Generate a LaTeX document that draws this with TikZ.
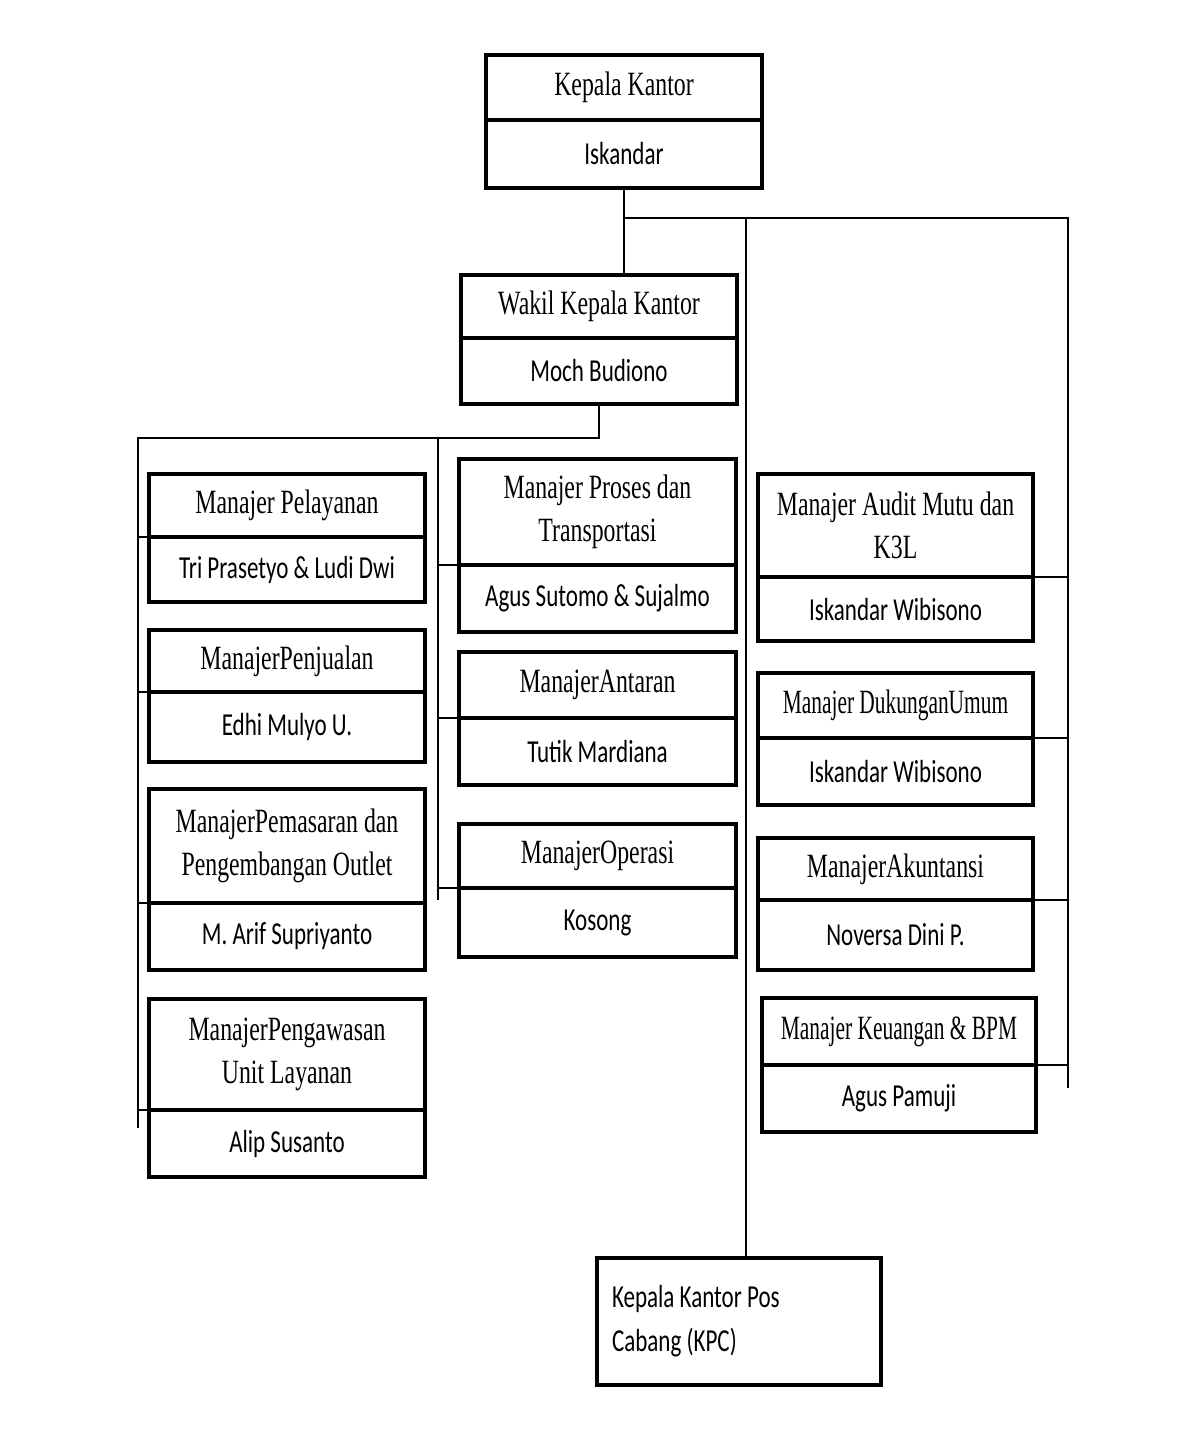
\documentclass[tikz,border=0pt]{standalone}
\usepackage{fontspec}
\newfontfamily\titlefont[FakeStretch=0.7]{Liberation Serif}
\newfontfamily\titlenarrow[FakeStretch=0.63]{Liberation Serif}
\newfontfamily\personfont[FakeStretch=0.72]{Carlito}
\usetikzlibrary{positioning}

\begin{document}
\begin{tikzpicture}[x=1pt,y=-1pt,
  posbox/.style={draw,line width=4pt,outer sep=0pt,inner sep=2pt,align=center,anchor=north west,
    font=\titlefont\fontsize{34}{43}\selectfont},
  narrowbox/.style={posbox,font=\titlenarrow\fontsize{34}{43}\selectfont},
  personbox/.style={draw,line width=4pt,outer sep=0pt,inner sep=2pt,align=center,
    font=\personfont\fontsize{32}{40}\selectfont},
  conn/.style={line width=1.5pt}]
\fill[white] (0,0) rectangle (1202,1432);
\useasboundingbox (0,0) rectangle (1202,1432);

% top
\node[posbox,minimum width=276,minimum height=65] (kep-t) at (486,55) {Kepala Kantor};
\node[personbox,minimum width=276,minimum height=68,below=0pt of kep-t] (kep-n) {Iskandar};
\node[posbox,minimum width=276,minimum height=63] (wak-t) at (461,275) {Wakil Kepala Kantor};
\node[personbox,minimum width=276,minimum height=66,below=0pt of wak-t] (wak-n) {Moch Budiono};

% left column
\node[posbox,minimum width=276,minimum height=63] (pel-t) at (149,474) {Manajer Pelayanan};
\node[personbox,minimum width=276,minimum height=65,below=0pt of pel-t] (pel-n) {Tri Prasetyo \& Ludi Dwi};
\node[posbox,minimum width=276,minimum height=62] (penj-t) at (149,630) {ManajerPenjualan};
\node[personbox,minimum width=276,minimum height=70,below=0pt of penj-t] (penj-n) {Edhi Mulyo U.};
\node[posbox,minimum width=276,minimum height=114] (pem-t) at (149,789) {ManajerPemasaran dan\\Pengembangan Outlet};
\node[personbox,minimum width=276,minimum height=67,below=0pt of pem-t] (pem-n) {M. Arif Supriyanto};
\node[posbox,minimum width=276,minimum height=111] (peng-t) at (149,999) {ManajerPengawasan\\Unit Layanan};
\node[personbox,minimum width=276,minimum height=67,below=0pt of peng-t] (peng-n) {Alip Susanto};

% middle column
\node[posbox,minimum width=277,minimum height=106] (pros-t) at (459,459) {Manajer Proses dan\\Transportasi};
\node[personbox,minimum width=277,minimum height=67,below=0pt of pros-t] (pros-n) {Agus Sutomo \& Sujalmo};
\node[posbox,minimum width=277,minimum height=66] (ant-t) at (459,652) {ManajerAntaran};
\node[personbox,minimum width=277,minimum height=67,below=0pt of ant-t] (ant-n) {Tutik Mardiana};
\node[posbox,minimum width=277,minimum height=64] (ops-t) at (459,824) {ManajerOperasi};
\node[personbox,minimum width=277,minimum height=69,below=0pt of ops-t] (ops-n) {Kosong};

% right column
\node[posbox,minimum width=275,minimum height=103] (aud-t) at (758,474) {Manajer Audit Mutu dan\\K3L};
\node[personbox,minimum width=275,minimum height=64,below=0pt of aud-t] (aud-n) {Iskandar Wibisono};
\node[narrowbox,minimum width=275,minimum height=65] (duk-t) at (758,673) {Manajer DukunganUmum};
\node[personbox,minimum width=275,minimum height=67,below=0pt of duk-t] (duk-n) {Iskandar Wibisono};
\node[posbox,minimum width=275,minimum height=62] (aku-t) at (758,838) {ManajerAkuntansi};
\node[personbox,minimum width=275,minimum height=70,below=0pt of aku-t] (aku-n) {Noversa Dini P.};
\node[narrowbox,minimum width=274,minimum height=67] (keu-t) at (762,998) {Manajer Keuangan \& BPM};
\node[personbox,minimum width=274,minimum height=67,below=0pt of keu-t] (keu-n) {Agus Pamuji};

% branch office
\node[personbox,anchor=north west,minimum width=284,minimum height=127,inner xsep=15pt,
  text width=254,align=flush left,font=\personfont\fontsize{32}{44}\selectfont] (kpc) at (597,1258) {Kepala Kantor Pos\\Cabang (KPC)};

% lines
\coordinate (lbus-t) at (138,438);
\coordinate (lbus-b) at (138,1128);
\coordinate (mbus-t) at (438,438);
\coordinate (mbus-b) at (438,900);
\coordinate (rbus-t) at (1068,218);
\coordinate (rbus-b) at (1068,1088);
\coordinate (cbus-t) at (746,218);
\draw[conn] (kep-n.south) -- (kep-n.south |- wak-t.north);
\draw[conn] (kep-n.south |- rbus-t) -- (rbus-t) -- (rbus-b);
\draw[conn] (cbus-t) -- (cbus-t |- kpc.north);
\draw[conn] (wak-n.south) |- (lbus-t) -- (lbus-b);
\draw[conn] (mbus-t) -- (mbus-b);
\foreach \b in {pel,penj,pem,peng} \draw[conn] (lbus-t |- \b-n.north west) -- (\b-n.north west);
\foreach \b in {pros,ant,ops} \draw[conn] (mbus-t |- \b-n.north west) -- (\b-n.north west);
\foreach \b in {aud,duk,aku,keu} \draw[conn] (\b-n.north east) -- (\b-n.north east -| rbus-t);
\end{tikzpicture}
\end{document}
